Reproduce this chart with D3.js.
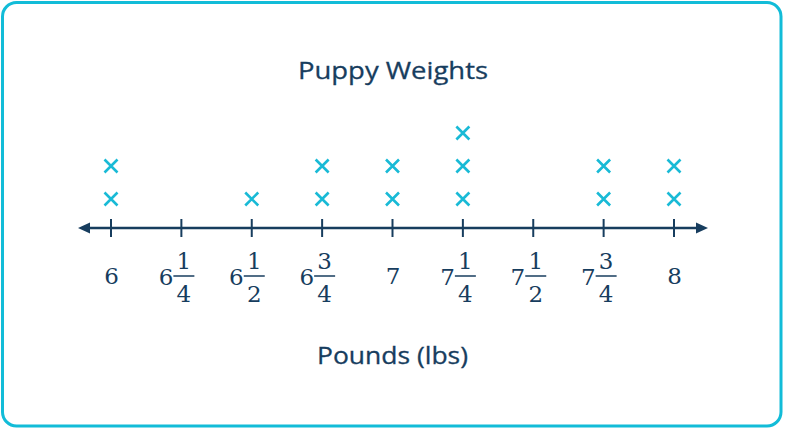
<!DOCTYPE html>
<html>
<head>
<meta charset="utf-8">
<script src="https://cdn.jsdelivr.net/npm/d3@7/dist/d3.min.js"></script>
<style>
  html, body { margin: 0; padding: 0; background: #fff; }
  svg { display: block; }
</style>
</head>
<body>
<svg id="chart" width="786" height="429"></svg>
<script>
// ---- data ----
const weights = [6, 6.25, 6.5, 6.75, 7, 7.25, 7.5, 7.75, 8];
const counts  = [2, 0, 1, 2, 2, 3, 0, 2, 2];
const wholeLabels = ["6", "6", "6", "6", "7", "7", "7", "7", "8"];
const numerators  = ["", "1", "1", "3", "", "1", "1", "3", ""];
const denominators= ["", "4", "2", "4", "", "4", "2", "4", ""];
const title = "Puppy Weights";
const xLabel = "Pounds (lbs)";

// ---- styles ----
const navy = "#173d5e";
const cyan = "#19bad6";
const border = "#12bcd8";

const svg = d3.select("#chart");
const W = 786, H = 429;

svg.append("rect")
  .attr("x", 2.5).attr("y", 2.5)
  .attr("width", W - 7.5).attr("height", H - 5.5)
  .attr("rx", 14).attr("ry", 14)
  .attr("fill", "#fff").attr("stroke", border).attr("stroke-width", 3);

const x = d3.scaleLinear().domain([6, 8]).range([111, 674]);
const y = d3.scaleLinear().domain([1, 3]).range([199, 133]);
const axisY = 228;

const sans = "'Open Sans', Lato, sans-serif";
function fitText(sel, w) {
  const len = sel.node().getComputedTextLength();
  if (Math.abs(len - w) > 1) sel.attr("textLength", w).attr("lengthAdjust", "spacingAndGlyphs");
}

// title
const tt = svg.append("text")
  .attr("x", 393).attr("y", 79)
  .attr("text-anchor", "middle")
  .attr("font-family", sans)
  .attr("font-size", 24)
  .attr("fill", navy)
  .attr("stroke", navy).attr("stroke-width", 0.3)
  .text(title);
fitText(tt, 190);

// axis label
const xl = svg.append("text")
  .attr("x", 392.5).attr("y", 364)
  .attr("text-anchor", "middle")
  .attr("font-family", sans)
  .attr("font-size", 23)
  .attr("fill", navy)
  .attr("stroke", navy).attr("stroke-width", 0.3)
  .text(xLabel);
fitText(xl, 151);

// axis with ticks (D3 axis)
const axis = d3.axisBottom(x)
  .tickValues(weights)
  .tickSize(0)
  .tickFormat("");
const axG = svg.append("g").attr("transform", `translate(0,${axisY})`).call(axis);
axG.select(".domain").remove();

// main line
svg.append("line")
  .attr("x1", x(6) - 24).attr("x2", x(8) + 24)
  .attr("y1", axisY).attr("y2", axisY)
  .attr("stroke", navy).attr("stroke-width", 2.5);

// arrowheads
const lt = x(6) - 33, rt = x(8) + 34;
svg.append("path")
  .attr("d", `M${lt},${axisY} L${lt + 12},${axisY - 5.5} L${lt + 12},${axisY + 5.5} Z`)
  .attr("fill", navy);
svg.append("path")
  .attr("d", `M${rt},${axisY} L${rt - 12},${axisY - 5.5} L${rt - 12},${axisY + 5.5} Z`)
  .attr("fill", navy);

// ticks
svg.append("g").selectAll("line").data(weights).join("line")
  .attr("x1", d => x(d)).attr("x2", d => x(d))
  .attr("y1", axisY - 9).attr("y2", axisY + 9)
  .attr("stroke", navy).attr("stroke-width", 2);

// tick labels
const serif = "'DejaVu Serif', 'Liberation Serif', serif";
const fs = 23;
function addT(g, tx, ty, anchor, str) {
  g.append("text").attr("x", tx).attr("y", ty).attr("text-anchor", anchor)
    .style("font-family", serif).style("font-size", fs + "px").attr("fill", navy).text(str);
}
const lab = svg.append("g");
weights.forEach((w, i) => {
  const cx = x(w);
  if (!numerators[i]) {
    addT(lab, cx + 0.5, 284, "middle", wholeLabels[i]);
  } else {
    const fc = cx + 2.5;
    addT(lab, cx - 8, 285, "end", wholeLabels[i]);
    addT(lab, fc, 269, "middle", numerators[i]);
    lab.append("line").attr("x1", fc - 10.5).attr("x2", fc + 10.5).attr("y1", 276).attr("y2", 276)
      .attr("stroke", navy).attr("stroke-width", 1.5);
    addT(lab, fc, 302, "middle", denominators[i]);
  }
});

// X marks
const marks = [];
weights.forEach((w, i) => { for (let k = 1; k <= counts[i]; k++) marks.push({w, k}); });
const s = 6.5;
svg.append("g").selectAll("path").data(marks).join("path")
  .attr("d", d => {
    const cx = x(d.w), cy = y(d.k);
    return `M${cx - s},${cy - s}L${cx + s},${cy + s}M${cx + s},${cy - s}L${cx - s},${cy + s}`;
  })
  .attr("stroke", cyan).attr("stroke-width", 2.6).attr("fill", "none");
</script>
</body>
</html>
